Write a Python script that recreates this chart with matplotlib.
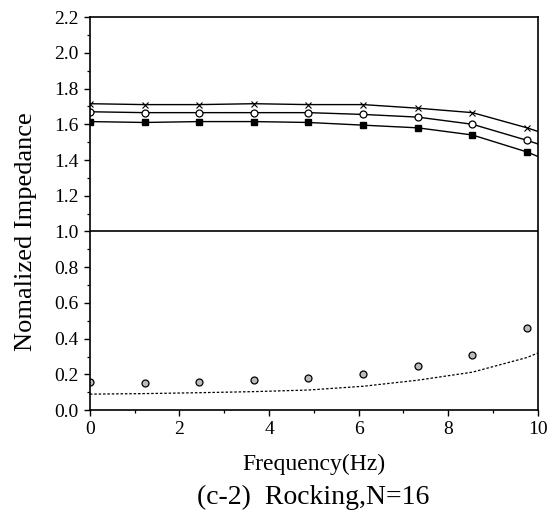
import numpy as np
import matplotlib.pyplot as plt
from matplotlib.ticker import MultipleLocator

plt.rcParams['font.family'] = ['Liberation Serif', 'DejaVu Serif']

# ==========================
# Data
# ==========================
freq = [0, 1.22, 2.44, 3.66, 4.88, 6.10, 7.32, 8.54, 9.76]
freq_line = freq + [10.0]

cross_vals = [1.715, 1.71, 1.71, 1.715, 1.71, 1.71, 1.69, 1.665, 1.58]
cross_line = cross_vals + [1.56]
circle_vals = [1.67, 1.665, 1.665, 1.665, 1.665, 1.655, 1.64, 1.60, 1.51]
circle_line = circle_vals + [1.49]
square_vals = [1.615, 1.61, 1.615, 1.615, 1.61, 1.595, 1.58, 1.54, 1.445]
square_line = square_vals + [1.42]

damp_vals = [0.157, 0.155, 0.158, 0.168, 0.18, 0.20, 0.245, 0.31, 0.46]
damp_curve_x = [0, 1.22, 2.44, 3.66, 4.88, 6.10, 7.32, 8.54, 9.76, 10.0]
damp_curve_y = [0.09, 0.093, 0.098, 0.104, 0.113, 0.134, 0.168, 0.213, 0.295, 0.32]

ref_level = 1.0

# ==========================
# Plot
# ==========================
fig = plt.figure(figsize=(5.55, 5.16), dpi=100)
ax = fig.add_axes([0.162, 0.205, 0.807, 0.762])

ax.plot(freq_line, cross_line, color='black', lw=1.0)
ax.plot(freq, cross_vals, 'x', color='black', ms=4, mew=0.8)
ax.plot(freq_line, circle_line, color='black', lw=1.0)
ax.plot(freq, circle_vals, 'o', mfc='white', mec='black', ms=5, mew=0.9)
ax.plot(freq_line, square_line, color='black', lw=1.0)
ax.plot(freq, square_vals, 's', color='black', ms=4)

ax.axhline(ref_level, color='black', lw=1.2)

ax.plot(damp_curve_x, damp_curve_y, color='black', lw=0.9, ls=(0, (2, 1.5)))
ax.plot(freq, damp_vals, 'o', mfc='#bbbbbb', mec='black', ms=5, mew=0.9)

ax.set_xlim(0, 10)
ax.set_ylim(0, 2.2)
ax.xaxis.set_major_locator(MultipleLocator(2))
ax.xaxis.set_minor_locator(MultipleLocator(1))
ax.yaxis.set_major_locator(MultipleLocator(0.2))
ax.yaxis.set_minor_locator(MultipleLocator(0.1))
ax.yaxis.set_major_formatter(plt.FormatStrFormatter('%.1f'))

ax.tick_params(which='major', direction='out', length=4, width=1.0, labelsize=14, pad=4)
ax.tick_params(which='minor', direction='out', length=2.5, width=0.9)
for sp in ax.spines.values():
    sp.set_linewidth(1.2)

ax.set_ylabel('Nomalized Impedance', fontsize=19)
ax.yaxis.set_label_coords(-0.118, 0.455)
ax.set_xlabel('Frequency(Hz)', fontsize=17, labelpad=11)
fig.text(0.565, 0.036, '(c-2)  Rocking,N=16', fontsize=20, ha='center', va='center')

fig.savefig('out.png', dpi=100)
